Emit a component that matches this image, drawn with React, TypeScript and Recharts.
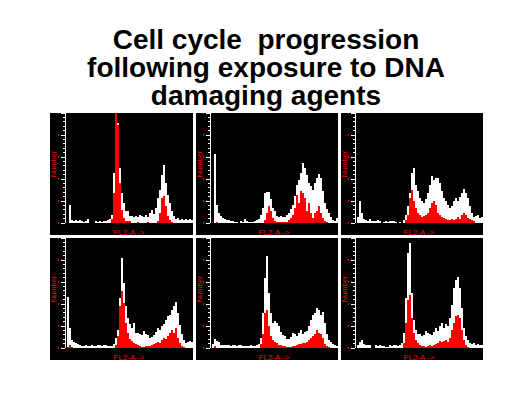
import React from "react";
import { BarChart, Bar, XAxis, YAxis } from "recharts";

// ---------- categories & ticks ----------
const bins = [
  0, 1, 2, 3, 4, 5, 6, 7, 8, 9, 10, 11, 12, 13, 14, 15, 16, 17, 18, 19, 20, 21,
  22, 23, 24, 25, 26, 27, 28, 29, 30, 31, 32, 33, 34, 35, 36, 37, 38, 39, 40,
  41, 42, 43, 44, 45, 46, 47, 48, 49, 50, 51, 52, 53, 54, 55, 56, 57, 58, 59,
  60, 61, 62, 63,
];
const yTicks = [
  0, 4.4, 8.8, 13.2, 17.6, 22, 26.4, 30.8, 35.2, 39.6, 44, 48.4, 52.8, 57.2,
  61.6, 66, 70.4, 74.8, 79.2, 83.6, 88, 92.4, 96.8, 101.2, 105.6, 110,
];
const xTicks = [
  0, 1.28, 2.56, 3.84, 5.12, 6.4, 7.68, 8.96, 10.24, 11.52, 12.8, 14.08, 15.36,
  16.64, 17.92, 19.2, 20.48, 21.76, 23.04, 24.32, 25.6, 26.88, 28.16, 29.44,
  30.72, 32, 33.28, 34.56, 35.84, 37.12, 38.4, 39.68, 40.96, 42.24, 43.52, 44.8,
  46.08, 47.36, 48.64, 49.92, 51.2, 52.48, 53.76, 55.04, 56.32, 57.6, 58.88,
  60.16, 61.44, 62.72, 64,
];
const titleLines = [
  "Cell cycle  progression",
  "following exposure to DNA",
  "damaging agents",
];
const xLabel = "FL2-A ->";
const yLabel = "Number";

// ---------- series values (white = total, red = gated) ----------
const p1Total = [
  0, 0, 18, 3, 2, 3, 2, 3, 2, 1, 2, 4, 0, 0, 0, 2, 1, 2, 1, 2, 2, 3, 4, 8, 50,
  110, 100, 55, 30, 20, 12, 12, 7, 7, 6, 7, 6, 8, 7, 6, 8, 6, 10, 13, 9, 15, 25,
  33, 48, 58, 40, 28, 20, 12, 7, 4, 5, 3, 4, 3, 4, 3, 4, 3,
];
const p1Gated = [
  0, 0, 0, 0, 0, 0, 0, 0, 0, 0, 0, 0, 0, 0, 0, 0, 0, 0, 0, 0, 0, 0, 0, 4, 30,
  110, 98, 40, 13, 5, 2, 2, 2, 0, 0, 0, 1, 0, 0, 0, 0, 1, 0, 0, 0, 0, 2, 10, 25,
  27, 17, 7, 3, 1, 0, 0, 0, 0, 0, 0, 0, 0, 0, 0,
];
const p2Total = [
  0, 0, 69, 18, 10, 7, 5, 4, 3, 3, 2, 2, 1, 1, 0, 2, 1, 4, 2, 1, 1, 1, 2, 3, 4,
  8, 15, 30, 31, 31, 24, 15, 12, 7, 6, 7, 6, 6, 8, 10, 14, 18, 27, 38, 43, 50,
  60, 55, 48, 40, 37, 33, 40, 45, 49, 45, 32, 20, 14, 10, 6, 3, 2, 5,
];
const p2Gated = [
  0, 0, 0, 1, 0, 0, 0, 0, 0, 0, 0, 0, 0, 0, 0, 0, 0, 0, 0, 0, 0, 0, 0, 0, 0, 0,
  0, 3, 10, 17, 12, 5, 2, 1, 1, 1, 1, 1, 1, 3, 5, 8, 15, 28, 20, 32, 30, 25, 12,
  20, 10, 5, 10, 12, 17, 10, 5, 2, 1, 0, 0, 0, 0, 0,
];
const p3Total = [
  0, 6, 22, 10, 4, 3, 2, 4, 2, 2, 2, 3, 2, 0, 1, 2, 1, 2, 2, 2, 1, 0, 1, 0, 3,
  8, 17, 30, 50, 55, 38, 32, 25, 22, 20, 24, 30, 38, 47, 43, 45, 45, 40, 32, 25,
  22, 18, 15, 17, 22, 25, 22, 26, 30, 34, 30, 25, 17, 10, 6, 7, 8, 5, 6,
];
const p3Gated = [
  0, 0, 0, 0, 0, 0, 0, 0, 0, 0, 0, 0, 0, 0, 0, 0, 0, 0, 0, 0, 0, 0, 0, 0, 0, 3,
  8, 25, 33, 22, 15, 10, 8, 6, 7, 8, 10, 15, 20, 22, 18, 10, 8, 6, 5, 4, 3, 3, 4,
  3, 4, 6, 4, 8, 10, 8, 5, 4, 3, 2, 0, 0, 0, 0,
];
const p4Total = [
  0, 51, 20, 8, 6, 5, 4, 3, 2, 2, 3, 2, 2, 3, 2, 2, 3, 3, 2, 3, 3, 2, 2, 2, 4,
  10, 18, 50, 90, 65, 42, 30, 24, 20, 25, 15, 15, 14, 13, 17, 14, 13, 10, 11, 13,
  16, 20, 18, 22, 24, 28, 32, 33, 38, 42, 46, 35, 23, 14, 8, 5, 6, 7, 6,
];
const p4Gated = [
  0, 1, 3, 1, 0, 0, 0, 0, 0, 0, 0, 0, 0, 0, 0, 0, 0, 0, 0, 0, 0, 0, 0, 0, 0, 3,
  12, 42, 57, 45, 25, 15, 9, 7, 5, 4, 3, 2, 1, 1, 2, 2, 2, 3, 4, 5, 6, 5, 8, 10,
  9, 12, 15, 18, 15, 20, 10, 5, 2, 1, 0, 0, 0, 0,
];
const p5Total = [
  0, 4, 9, 7, 6, 3, 3, 3, 3, 3, 2, 3, 3, 2, 3, 3, 2, 2, 2, 2, 3, 2, 2, 3, 4, 10,
  35, 70, 92, 55, 35, 25, 27, 25, 22, 16, 13, 12, 9, 9, 11, 15, 14, 12, 15, 18,
  14, 16, 17, 22, 28, 33, 35, 40, 38, 33, 36, 25, 14, 8, 6, 4, 3, 2,
];
const p5Gated = [
  0, 0, 2, 0, 0, 0, 0, 0, 0, 0, 0, 0, 0, 0, 0, 0, 0, 0, 0, 0, 0, 0, 0, 0, 0, 4,
  14, 35, 38, 22, 12, 8, 6, 5, 3, 3, 2, 2, 1, 1, 1, 2, 2, 3, 4, 4, 5, 5, 6, 8,
  10, 12, 14, 18, 15, 14, 10, 4, 2, 1, 0, 0, 0, 0,
];
const p6Total = [
  0, 3, 6, 8, 4, 3, 3, 3, 0, 0, 3, 2, 3, 2, 2, 1, 1, 3, 2, 3, 3, 2, 3, 5, 15,
  50, 95, 105, 55, 28, 18, 14, 14, 12, 13, 17, 15, 14, 13, 16, 20, 17, 22, 25,
  20, 24, 22, 30, 43, 60, 68, 71, 60, 40, 20, 12, 8, 5, 4, 5, 3, 4, 3, 3,
];
const p6Gated = [
  0, 0, 0, 0, 0, 0, 0, 0, 0, 0, 0, 0, 0, 0, 0, 0, 0, 0, 0, 0, 0, 0, 0, 0, 5, 25,
  48, 53, 30, 15, 8, 5, 3, 2, 2, 1, 2, 3, 2, 3, 4, 5, 7, 6, 7, 8, 6, 10, 18, 25,
  32, 33, 30, 18, 8, 3, 1, 0, 0, 0, 0, 0, 0, 0,
];

const panelSeries = [
  [p1Total, p1Gated],
  [p2Total, p2Gated],
  [p3Total, p3Gated],
  [p4Total, p4Gated],
  [p5Total, p5Gated],
  [p6Total, p6Gated],
];

// ---------- layout ----------
const colLeft = [50, 196, 341];
const colWidth = [143, 142, 142];
const colAxisW = [15, 14, 14];
const rowTop = [113, 238];
const panelH = 122;
const plotH = 110;
const titleBaselines = [49, 77, 105];

const WHITE = "#ffffff";
const RED = "#ff0000";
const SMALL_FONT = "'Liberation Sans', Arial, sans-serif";

const YTick = (props: any) => {
  const { x, y, index } = props;
  const major = index % 5 === 0;
  return (
    <g>
      <line
        x1={x - (major ? 4 : 2)}
        x2={x}
        y1={y}
        y2={y}
        stroke={WHITE}
        strokeWidth={1}
        shapeRendering="crispEdges"
      />
      {major && (
        <rect x={x - 7} y={y - 1} width={1} height={2} fill={RED} shapeRendering="crispEdges" />
      )}
    </g>
  );
};

const XTick = (props: any) => {
  const { x, y, index } = props;
  const major = index % 5 === 0;
  return (
    <g>
      <line
        x1={x}
        x2={x}
        y1={y}
        y2={y + (major ? 3 : 2)}
        stroke={WHITE}
        strokeWidth={1}
        shapeRendering="crispEdges"
      />
      {major && index > 0 && (
        <rect x={x - 4} y={y + 5} width={4} height={1} fill={RED} shapeRendering="crispEdges" />
      )}
    </g>
  );
};

const makeYLabel = () => () => {
  const cx = 3;
  const cy = plotH / 2 - 4;
  return (
    <text
      x={cx}
      y={cy}
      transform={`rotate(-90 ${cx} ${cy})`}
      textAnchor="middle"
      dominantBaseline="central"
      fill={RED}
      fontSize={7.5}
      fontFamily={SMALL_FONT}
    >
      {yLabel}
    </text>
  );
};

const makeXLabel = (axisW: number, w: number) => () => (
  <text
    x={axisW + (w - axisW) / 2}
    y={panelH - 0.5}
    textAnchor="middle"
    fill={RED}
    fontSize={8}
    fontFamily={SMALL_FONT}
  >
    {xLabel}
  </text>
);

const Panel = ({ index }: { index: number }) => {
  const col = index % 3;
  const row = Math.floor(index / 3);
  const [total, gated] = panelSeries[index];
  const data = bins.map((b, i) => ({ bin: b, total: total[i], gated: gated[i] }));
  const w = colWidth[col];
  const aw = colAxisW[col];
  return (
    <div
      style={{
        position: "absolute",
        left: colLeft[col],
        top: rowTop[row],
        width: w,
        height: panelH,
        background: "#000000",
      }}
    >
      <BarChart
        width={w}
        height={panelH}
        data={data}
        margin={{ top: 0, right: 0, bottom: 0, left: 0 }}
        barCategoryGap={0}
        barGap={0}
      >
        <XAxis xAxisId="w" dataKey="bin" type="category" hide />
        <XAxis xAxisId="r" dataKey="bin" type="category" hide />
        <XAxis
          xAxisId="t"
          dataKey="bin"
          type="number"
          domain={[0, 64]}
          allowDataOverflow
          ticks={xTicks}
          interval={0}
          height={panelH - plotH}
          tickSize={0}
          tickMargin={0}
          tickLine={false}
          axisLine={{ stroke: WHITE, strokeWidth: 1 }}
          tick={<XTick />}
          label={makeXLabel(aw, w)}
        />
        <YAxis
          type="number"
          domain={[0, 110]}
          allowDataOverflow
          ticks={yTicks}
          interval={0}
          width={aw}
          tickSize={0}
          tickMargin={0}
          tickLine={false}
          axisLine={{ stroke: WHITE, strokeWidth: 1 }}
          tick={<YTick />}
          label={makeYLabel()}
        />
        <Bar xAxisId="w" dataKey="total" fill={WHITE} isAnimationActive={false} />
        <Bar xAxisId="r" dataKey="gated" fill={RED} isAnimationActive={false} />
      </BarChart>
    </div>
  );
};

export default function App() {
  return (
    <div
      style={{
        position: "absolute",
        left: 0,
        top: 0,
        width: 532,
        height: 398,
        background: "#ffffff",
        overflow: "hidden",
      }}
    >
      <style>{`
        .recharts-rectangle { shape-rendering: crispEdges; }
        .recharts-cartesian-axis-line { shape-rendering: crispEdges; }
      `}</style>
      <svg
        width={532}
        height={113}
        style={{ position: "absolute", left: 0, top: 0 }}
      >
        {titleLines.map((t, i) => (
          <text
            key={i}
            x={266}
            y={titleBaselines[i]}
            textAnchor="middle"
            fontFamily="'Liberation Sans', Arial, Helvetica, sans-serif"
            fontWeight="bold"
            fontSize={28}
            fill="#000000"
            style={{ whiteSpace: "pre" }}
          >
            {t}
          </text>
        ))}
      </svg>
      {[0, 1, 2, 3, 4, 5].map((i) => (
        <Panel key={i} index={i} />
      ))}
    </div>
  );
}
